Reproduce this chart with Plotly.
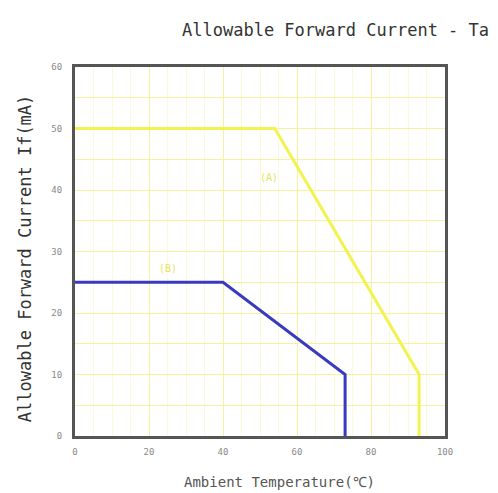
import plotly.graph_objects as go

# Data
a_temp = [0, 54, 93, 93]
a_current = [50, 50, 10, 0]
b_temp = [0, 40, 73, 73]
b_current = [25, 25, 10, 0]
x_ticks = [0, 20, 40, 60, 80, 100]
y_ticks = [0, 10, 20, 30, 40, 50, 60]
label_a = "(A)"
label_b = "(B)"

mono = "DejaVu Sans Mono"

fig = go.Figure()
fig.add_trace(go.Scatter(x=a_temp, y=a_current, mode="lines",
                         line=dict(color="#f2f250", width=3), showlegend=False))
fig.add_trace(go.Scatter(x=b_temp, y=b_current, mode="lines",
                         line=dict(color="#3a3ac0", width=3), showlegend=False))

fig.add_annotation(x=52.5, y=42, text=label_a, showarrow=False,
                   font=dict(family=mono, size=10, color="#e4e460"))
fig.add_annotation(x=25, y=27.3, text=label_b, showarrow=False,
                   font=dict(family=mono, size=10, color="#e4e460"))

# Titles as paper annotations
fig.add_annotation(xref="paper", yref="paper", x=0.284, y=1.10, xanchor="left",
                   yanchor="middle", text="Allowable Forward Current - Ta",
                   showarrow=False, font=dict(family=mono, size=17, color="#333333"))
fig.add_annotation(xref="paper", yref="paper", x=0.554, y=-0.125, xanchor="center",
                   yanchor="middle", text="Ambient Temperature(℃)",
                   showarrow=False, font=dict(family=mono, size=14, color="#555555"))
fig.add_annotation(xref="paper", yref="paper", x=-0.135, y=0.482, xanchor="center",
                   yanchor="middle", text="Allowable Forward Current If(mA)",
                   textangle=-90, showarrow=False,
                   font=dict(family=mono, size=17, color="#333333"))

fig.update_layout(
    width=490, height=485,
    margin=dict(l=67, r=53, t=59, b=57, autoexpand=False),
    paper_bgcolor="white", plot_bgcolor="white",
)
fig.update_xaxes(range=[0, 100], tickvals=x_ticks, ticks="", automargin=False,
                 ticklabelstandoff=5,
                 tickfont=dict(family=mono, size=9, color="#888888"),
                 showgrid=True, gridcolor="#f3f3a0", gridwidth=1, dtick=10,
                 minor=dict(dtick=5, showgrid=True, gridcolor="#fafad6"),
                 showline=True, linecolor="#555555", linewidth=3, mirror=True,
                 zeroline=False)
fig.update_yaxes(range=[0, 60], tickvals=y_ticks, ticks="", automargin=False,
                 ticklabelstandoff=8,
                 tickfont=dict(family=mono, size=9, color="#888888"),
                 showgrid=True, gridcolor="#f3f3a0", gridwidth=1,
                 minor=dict(dtick=5, showgrid=True, gridcolor="#f3f3a0"),
                 showline=True, linecolor="#555555", linewidth=3, mirror=True,
                 zeroline=False)

fig.write_html("out.html")
